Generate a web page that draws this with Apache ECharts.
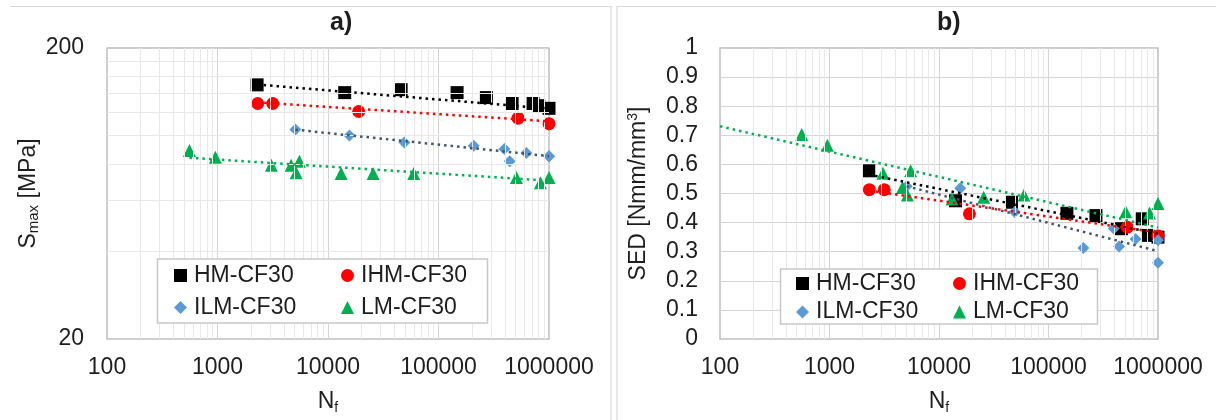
<!DOCTYPE html>
<html><head><meta charset="utf-8">
<script src="https://cdn.jsdelivr.net/npm/echarts@6/dist/echarts.min.js"></script>
<style>html,body{margin:0;padding:0;background:#fff}#c{width:1216px;height:420px}</style>
</head><body><div id="c"></div>
<script>
// ---- data ----
const seriesNames = ['HM-CF30', 'IHM-CF30', 'ILM-CF30', 'LM-CF30'];

const HM_N   = [2282, 14160, 45900, 147300, 271200, 463500, 718000, 807000, 1000000];
const HM_S   = [149.4, 140.5, 143.8, 140.5, 135.1, 128.9, 128.9, 126.7, 124.1];
const HM_SED = [0.578, 0.475, 0.470, 0.432, 0.424, 0.379, 0.413, 0.356, 0.350];

const IHM_N   = [2311, 3160, 18960, 525000, 1000000];
const IHM_S   = [128.9, 128.9, 121.0, 114.8, 109.9];
const IHM_SED = [0.513, 0.513, 0.430, 0.384, 0.354];

const ILM_N   = [5070, 15630, 49100, 208300, 394600, 440800, 624000, 1000000, 1000000];
const ILM_S   = [104.9, 100.1, 94.7, 92.3, 89.9, 81.7, 87.1, 85.0, 85.0];
const ILM_SED = [0.525, 0.518, 0.436, 0.313, 0.380, 0.318, 0.344, 0.339, 0.262];

const LM_N   = [557, 957, 3075, 4637, 5510, 5145, 13140, 25600, 59700, 507000, 836000, 1000000];
const LM_S   = [88.8, 84.3, 79.1, 79.1, 81.7, 74.5, 74.1, 74.1, 74.1, 71.8, 68.9, 71.8];
const LM_SED = [0.703, 0.666, 0.570, 0.521, 0.578, 0.495, 0.481, 0.487, 0.495, 0.437, 0.433, 0.466];

// trendline end points
const trendA_HM  = [[2282, 149.8], [1000000, 123.8]];
const trendA_IHM = [[2311, 130.1], [1000000, 112.0]];
const trendA_ILM = [[5070, 104.8], [1000000, 85.0]];
const trendA_LM  = [[557, 83.9], [1000000, 70.0]];
const trendB_HM  = [[2282, 0.565], [1000000, 0.362]];
const trendB_IHM = [[2311, 0.510], [1000000, 0.366]];
const trendB_ILM = [[5070, 0.525], [1000000, 0.302]];
const trendB_LM  = [[100, 0.731], [1000000, 0.383]];

// axis ranges / tick labels
const xRange = [100, 1000000];
const yRangeA = [20, 200];
const yLabelsA = [20, 200];
const yRangeB = [0, 1];
const yStepB = 0.1;
const titles = ['a)', 'b)'];
const minorMult = [2, 3, 4, 5, 6, 7, 8, 9];
const decades = [100, 1000, 10000, 100000];
const yMinorA = [40, 60, 80, 100, 120, 140, 160, 180];

// ---- styling ----
const FONT = "'Liberation Sans', Arial, sans-serif";
const TXT = '#1e1e1e';
const markerColors = ['#000000', '#ff0000', '#5b9bd5', '#00b050'];
const trendColors  = ['#000000', '#ff0000', '#44546a', '#00b050'];
const symbols = ['rect', 'circle', 'diamond', 'triangle'];
const symbolSizes = [13, 13, 12, 13];

const xMinor = [];
decades.forEach(d => minorMult.forEach(m => xMinor.push(d * m)));

const zip = (a, b) => a.map((v, i) => [v, b[i]]);
const dataA = [zip(HM_N, HM_S), zip(IHM_N, IHM_S), zip(ILM_N, ILM_S), zip(LM_N, LM_S)];
const dataB = [zip(HM_N, HM_SED), zip(IHM_N, IHM_SED), zip(ILM_N, ILM_SED), zip(LM_N, LM_SED)];
const trendsA = [trendA_HM, trendA_IHM, trendA_ILM, trendA_LM];
const trendsB = [trendB_HM, trendB_IHM, trendB_ILM, trendB_LM];

const grids = [
  { left: 107, top: 48, width: 442, height: 298 },
  { left: 720, top: 48, width: 438, height: 293 }
];

function xAxisFor(i) {
  return {
    type: 'log', logBase: 10, gridIndex: i, min: xRange[0], max: xRange[1],
    axisLine: { show: false }, axisTick: { show: false },
    axisLabel: { formatter: v => String(Math.round(v)), fontSize: 23, fontFamily: FONT, color: TXT, margin: 17 },
    splitLine: { show: true, showMinLine: false, showMaxLine: false, lineStyle: { color: '#d4d4d4', width: 1 } },
    name: '{n|N}{sub|f}', nameLocation: 'middle', nameGap: 50,
    nameTextStyle: { rich: {
      n: { fontSize: 23, fontFamily: FONT, color: TXT },
      sub: { fontSize: 14, fontFamily: FONT, color: TXT, padding: [12, 0, 0, 0] }
    } }
  };
}

const series = [];
[0, 1].forEach(g => {
  const data = g === 0 ? dataA : dataB;
  const trends = g === 0 ? trendsA : trendsB;
  // minor grid lines
  const mlData = xMinor.map(v => ({ xAxis: v }));
  if (g === 0) yMinorA.forEach(v => mlData.push({ yAxis: v }));
  series.push({
    type: 'scatter', xAxisIndex: g, yAxisIndex: g, data: [], z: 1, silent: true,
    markLine: { silent: true, symbol: ['none', 'none'], label: { show: false }, animation: false,
      lineStyle: { color: '#e8e8e8', width: 1, type: 'solid' }, emphasis: { disabled: true }, data: mlData }
  });
  seriesNames.forEach((nm, k) => {
    series.push({
      name: nm, type: 'scatter', xAxisIndex: g, yAxisIndex: g, data: data[k],
      symbol: symbols[k], symbolSize: symbolSizes[k],
      itemStyle: { color: markerColors[k], opacity: 1 }, z: 3
    });
  });
  seriesNames.forEach((nm, k) => {
    series.push({
      name: 'trend ' + nm, type: 'line', xAxisIndex: g, yAxisIndex: g, data: trends[k],
      showSymbol: false, symbol: 'none', silent: true, z: 5,
      lineStyle: { color: trendColors[k], width: 2.5, type: [2.5, 4] }
    });
  });
});

function legendCol(left, top, gap, items) {
  return {
    orient: 'vertical', left: left, top: top, itemGap: gap, itemWidth: 13, itemHeight: 13,
    padding: 0, z: 10, selectedMode: false,
    textStyle: { fontSize: 23, fontFamily: FONT, color: TXT, lineHeight: 22, padding: [0, 0, 0, 2] },
    data: items
  };
}

const option = {
  animation: false,
  backgroundColor: '#ffffff',
  grid: grids.map(g => Object.assign({ show: true, borderColor: '#bfbfbf', borderWidth: 1.5, backgroundColor: 'transparent', containLabel: false }, g)),
  title: [
    { text: titles[0], left: 330, top: 11, padding: 0, textStyle: { fontSize: 25, fontWeight: 'bold', fontFamily: FONT, color: TXT } },
    { text: titles[1], left: 937, top: 11, padding: 0, textStyle: { fontSize: 25, fontWeight: 'bold', fontFamily: FONT, color: TXT } }
  ],
  xAxis: [xAxisFor(0), xAxisFor(1)],
  yAxis: [
    {
      type: 'log', logBase: 10, gridIndex: 0, min: yRangeA[0], max: yRangeA[1], splitNumber: 1,
      axisLine: { show: false }, axisTick: { show: false }, splitLine: { show: false },
      axisLabel: {
        formatter: v => (yLabelsA.some(t => Math.abs(v - t) < t * 0.01) ? String(Math.round(v)) : ''),
        fontSize: 23, fontFamily: FONT, color: TXT, margin: 23, showMinLabel: true, showMaxLabel: true
      },
      name: '{s|S}{sub|max}{s| [MPa]}', nameLocation: 'middle', nameGap: 62, nameRotate: 90,
      nameTextStyle: { rich: {
        s: { fontSize: 23, fontFamily: FONT, color: TXT },
        sub: { fontSize: 15, fontFamily: FONT, color: TXT, padding: [12, 0, 0, 0] }
      } }
    },
    {
      type: 'value', gridIndex: 1, min: yRangeB[0], max: yRangeB[1], interval: yStepB,
      axisLine: { show: false }, axisTick: { show: false },
      splitLine: { show: true, showMinLine: false, showMaxLine: false, lineStyle: { color: '#d4d4d4', width: 1 } },
      axisLabel: { formatter: v => String(Math.round(v * 10) / 10), fontSize: 23, fontFamily: FONT, color: TXT, margin: 22 },
      name: '{s|SED [Nmm/mm}{sup|3}{s|]}', nameLocation: 'middle', nameGap: 68, nameRotate: 90,
      nameTextStyle: { rich: {
        s: { fontSize: 23, fontFamily: FONT, color: TXT },
        sup: { fontSize: 14, fontFamily: FONT, color: TXT, padding: [0, 0, 12, 0] }
      } }
    }
  ],
  legend: [
    legendCol(174, 264, 9, [{ name: seriesNames[0], icon: 'rect' }, { name: seriesNames[2], icon: 'diamond' }]),
    legendCol(341, 264, 9, [{ name: seriesNames[1], icon: 'circle' }, { name: seriesNames[3], icon: 'triangle' }]),
    legendCol(796, 272, 5.5, [{ name: seriesNames[0], icon: 'rect' }, { name: seriesNames[2], icon: 'diamond' }]),
    legendCol(953, 272, 5.5, [{ name: seriesNames[1], icon: 'circle' }, { name: seriesNames[3], icon: 'triangle' }])
  ],
  graphic: [
    { type: 'rect', z: 9, shape: { x: 157.5, y: 259, width: 330, height: 64 }, style: { fill: '#ffffff', stroke: '#c8c8c8', lineWidth: 1.5 }, silent: true },
    { type: 'rect', z: 9, shape: { x: 780.5, y: 269, width: 317, height: 55 }, style: { fill: '#ffffff', stroke: '#c8c8c8', lineWidth: 1.5 }, silent: true },
    { type: 'polyline', z: 0, shape: { points: [[10, 6.5], [611, 6.5], [611, 420]] }, style: { stroke: '#d9d9d9', lineWidth: 1.2, fill: null }, silent: true },
    { type: 'polyline', z: 0, shape: { points: [[617, 420], [617, 6.5], [1216, 6.5]] }, style: { stroke: '#d9d9d9', lineWidth: 1.2, fill: null }, silent: true }
  ],
  series: series
};

const chart = echarts.init(document.getElementById('c'), null, { renderer: 'canvas' });
chart.setOption(option);
</script>
</body></html>
